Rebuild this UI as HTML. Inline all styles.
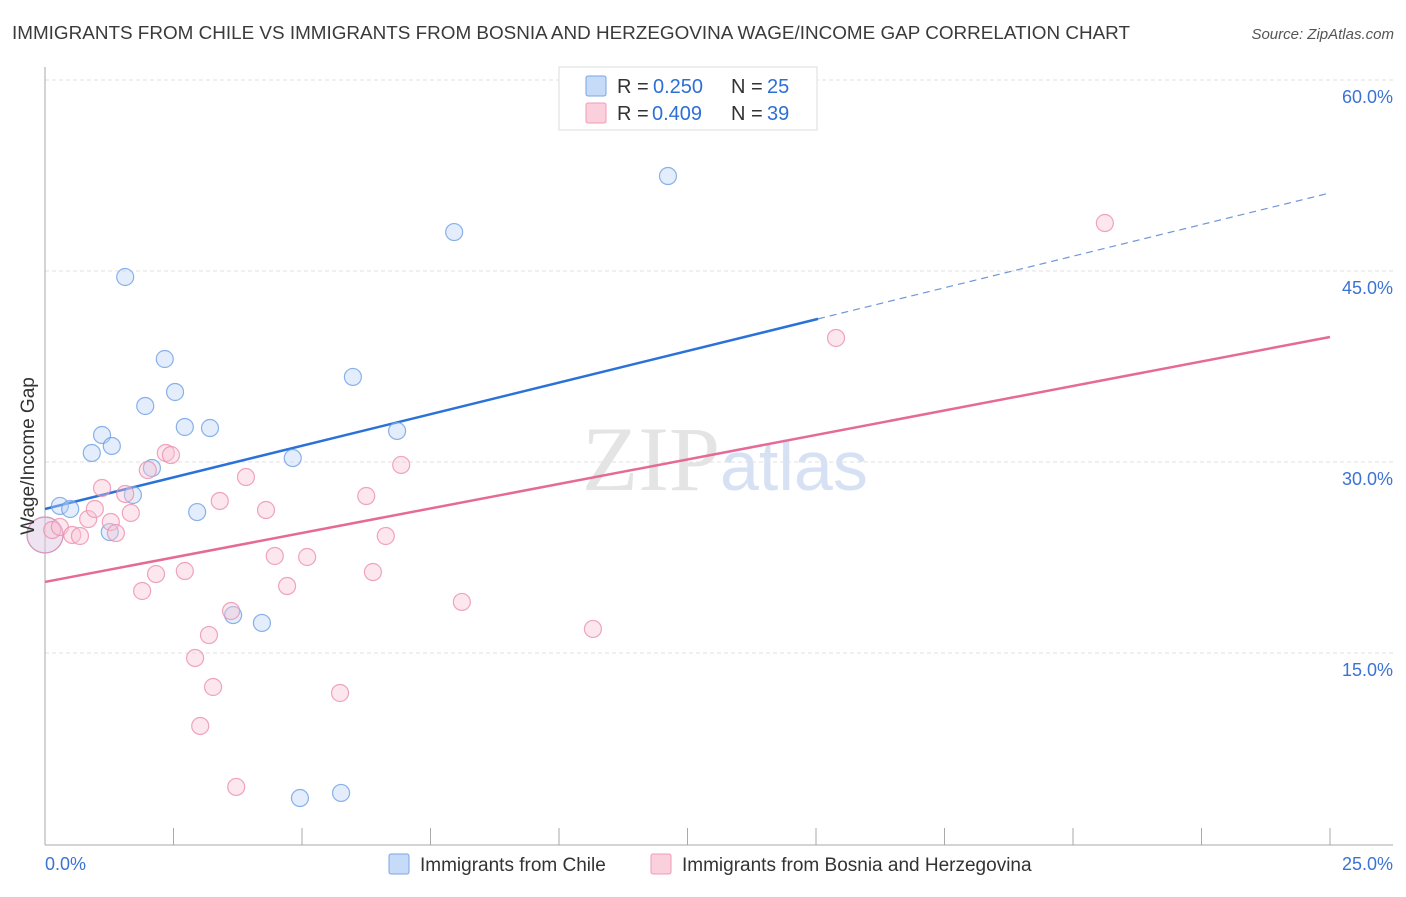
<!DOCTYPE html>
<html><head><meta charset="utf-8"><style>
body{margin:0;background:#fff;font-family:"Liberation Sans",sans-serif}
</style></head><body>
<svg id="c" width="1406" height="892" xmlns="http://www.w3.org/2000/svg">
<text x="12" y="39" font-size="18" fill="#3a3a3a" textLength="1118" lengthAdjust="spacingAndGlyphs">IMMIGRANTS FROM CHILE VS IMMIGRANTS FROM BOSNIA AND HERZEGOVINA WAGE/INCOME GAP CORRELATION CHART</text>
<text x="1394" y="39" font-size="15" fill="#555" font-style="italic" text-anchor="end">Source: ZipAtlas.com</text>
<text x="720" y="490" font-size="92" fill="#e4e4e4" text-anchor="end" font-family="Liberation Serif,serif">ZIP</text>
<text x="720" y="490" font-size="70" fill="#d6e2f4">atlas</text>
<g id="grid"></g><g id="axes"></g><g id="lines"></g><g id="pts"></g>
<text transform="translate(34,456) rotate(-90)" font-size="19" fill="#333" text-anchor="middle">Wage/Income Gap</text>
<g>
<rect x="559" y="67" width="258" height="63" fill="#fff" stroke="#ddd"/>
<rect x="586" y="76" width="20" height="20" fill="#c6dbf7" stroke="#7aa6e6" rx="2"/>
<rect x="586" y="103" width="20" height="20" fill="#fbd0dd" stroke="#f09ab4" rx="2"/>
<text y="93" font-size="20" fill="#333"><tspan x="617">R =</tspan><tspan x="653" fill="#2d6fd6">0.250</tspan><tspan x="731">N =</tspan><tspan x="767" fill="#2d6fd6">25</tspan></text>
<text y="120" font-size="20" fill="#333"><tspan x="617">R =</tspan><tspan x="652" fill="#2d6fd6">0.409</tspan><tspan x="731">N =</tspan><tspan x="767" fill="#2d6fd6">39</tspan></text>
</g>
<g>
<rect x="389" y="854" width="20" height="20" fill="#c6dbf7" stroke="#7aa6e6" rx="2"/>
<text x="420" y="871" font-size="19" fill="#333">Immigrants from Chile</text>
<rect x="651" y="854" width="20" height="20" fill="#fbd0dd" stroke="#f09ab4" rx="2"/>
<text x="682" y="871" font-size="19" fill="#333">Immigrants from Bosnia and Herzegovina</text>
</g>
</svg>
<script>
const yTicks=[15,30,45,60];
const yTickLabels=["15.0%","30.0%","45.0%","60.0%"];
const xTickLabels=["0.0%","25.0%"];
const chileX=[0.29,0.49,0.91,1.11,1.30,1.26,1.56,1.71,1.95,2.08,2.33,2.53,2.72,2.96,3.21,3.66,4.22,4.82,4.96,5.76,5.99,6.85,7.96,12.12,0.0];
const chileY=[26.55,26.31,30.71,32.12,31.26,24.50,44.53,27.41,34.40,29.53,38.09,35.50,32.75,26.07,32.67,17.98,17.36,30.31,3.61,4.01,36.68,32.44,48.06,52.46,24.27];
const bosX=[0,0.14,0.29,0.53,0.68,0.84,0.97,1.11,1.28,1.38,1.56,1.67,1.89,2.00,2.16,2.35,2.45,2.72,2.92,3.02,3.19,3.27,3.40,3.62,3.72,3.91,4.30,4.47,4.71,5.10,5.74,6.25,6.38,6.63,6.93,8.11,10.66,15.39,20.62];
const bosY=[24.27,24.66,24.90,24.27,24.19,25.52,26.31,27.96,25.29,24.42,27.49,26.00,19.87,29.37,21.20,30.71,30.55,21.44,14.61,9.27,16.41,12.33,26.94,18.30,4.48,28.82,26.23,22.62,20.26,22.54,11.86,27.33,21.36,24.19,29.77,19.01,16.89,39.74,48.77];
const chileTrend=[26.31,51.13];
const bosTrend=[20.58,39.82];
const NS="http://www.w3.org/2000/svg";
const sx=v=>45+v*51.4, sy=v=>844-v*12.733;
function mk(tag,attrs,parent){const e=document.createElementNS(NS,tag);for(const k in attrs)e.setAttribute(k,attrs[k]);document.getElementById(parent).appendChild(e);return e;}
yTicks.forEach((t,i)=>{
 const g=mk('line',{x1:45,x2:1393,y1:sy(t),y2:sy(t),stroke:'#e2e2e2','stroke-dasharray':'4,3'},'grid');
 
 
 const l=mk('text',{x:1393,y:sy(t)+23,'font-size':18,fill:'#3b73d4','text-anchor':'end'},'axes');
 l.textContent=yTickLabels[i];
 
 
});
const a1=mk('line',{x1:45,x2:45,y1:67,y2:845,stroke:'#aaa'},'axes');


const a2=mk('line',{x1:45,x2:1393,y1:845,y2:845,stroke:'#aaa'},'axes');


for(let i=0;i<=10;i++){const t=mk('line',{x1:sx(i*2.5),x2:sx(i*2.5),y1:828,y2:845,stroke:'#aaa'},'axes');
 
 }
[[0,'start',45],[25,'end',1393]].forEach((d,i)=>{const t=mk('text',{x:d[2],y:870,'font-size':18,fill:'#3b73d4','text-anchor':d[1]},'axes');t.textContent=xTickLabels[i];
 
 });
const ly=(tr,x)=>tr[0]+(tr[1]-tr[0])*x/25;
const l1=mk('line',{x1:sx(0),y1:sy(ly(chileTrend,0)),x2:sx(15.04),y2:sy(ly(chileTrend,15.04)),stroke:'#2a72d8','stroke-width':2.5},'lines');


const l2=mk('line',{x1:sx(15.04),y1:sy(ly(chileTrend,15.04)),x2:sx(25),y2:sy(ly(chileTrend,25)),stroke:'#6f97d6','stroke-width':1.2,'stroke-dasharray':'7,5'},'lines');


const l3=mk('line',{x1:sx(0),y1:sy(ly(bosTrend,0)),x2:sx(25),y2:sy(ly(bosTrend,25)),stroke:'#e56a95','stroke-width':2.5},'lines');


function pts(X,Y,fill,stroke,name){X.forEach((x,i)=>{const big=(x===0);
 const c=mk('circle',{cx:sx(x),cy:sy(Y[i]),r:big?18:8.5,fill:fill,'fill-opacity':big?0.3:0.4,stroke:stroke,'stroke-opacity':0.8,'stroke-width':1.2},'pts');
 
 });}
pts(chileX,chileY,'#b9d2f5','#6e9fe3','chile-point');
pts(bosX,bosY,'#f8c4d4','#ec8fad','bosnia-point');
</script>
</body></html>
